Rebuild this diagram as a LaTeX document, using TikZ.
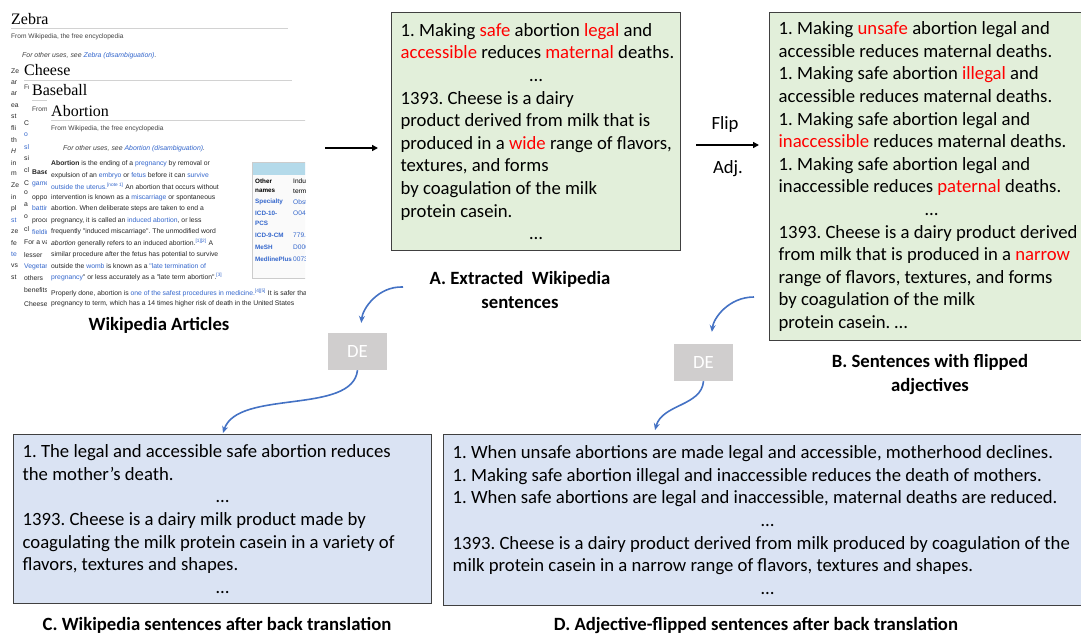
\documentclass[tikz,border=0pt]{standalone}
\usepackage{fontspec}
\setmainfont{Carlito}
\newfontfamily\wikiserif{Liberation Serif}
\newfontfamily\wikisans{Liberation Sans}
\usetikzlibrary{arrows.meta,positioning}
\frenchspacing

\definecolor{boxgreen}{HTML}{E2EFDA}
\definecolor{boxblue}{HTML}{DAE3F3}
\definecolor{boxgray}{HTML}{404040}
\definecolor{flipred}{HTML}{FF0000}
\definecolor{degray}{HTML}{D0CECE}
\definecolor{flowblue}{HTML}{4472C4}
\definecolor{wblue}{HTML}{3366CC}
\definecolor{infoblue}{HTML}{B4DAEA}

\newcommand\flip[1]{\textcolor{flipred}{#1}}
\newcommand\lk[1]{\textcolor{wblue}{#1}}
\newcommand\sref[1]{\textsuperscript{\lk{#1}}}
\newcommand\dotsline{\makebox[\linewidth]{…}}

\tikzset{
  sentbox/.style={draw=boxgray, line width=1.3pt, inner xsep=9pt, inner ysep=3pt,
    anchor=north west, align=flush left, font=\fontsize{18.7}{22.6}\selectfont},
  greenbox/.style={sentbox, fill=boxgreen},
  bluebox/.style={sentbox, fill=boxblue},
  caption/.style={align=center, inner sep=2pt, font=\bfseries\fontsize{18.7}{24}\selectfont},
  plain/.style={inner sep=1pt, font=\fontsize{18.7}{22}\selectfont},
  debox/.style={fill=degray, text=white, minimum width=59pt, minimum height=37pt,
    inner sep=0pt, font=\fontsize{18.7}{22}\selectfont},
  blueflow/.style={draw=flowblue, line width=1.6pt, -{Stealth[length=7pt,width=6pt]}},
  blackflow/.style={line width=1.8pt, -{Triangle[length=6pt,width=6pt]}},
  wtitle/.style={anchor=west, inner sep=0pt, font=\wikiserif\fontsize{16}{16}\selectfont},
  wsmall/.style={anchor=west, inner sep=0pt, text=black!75, font=\wikisans\fontsize{6.6}{7}\selectfont},
  witalic/.style={wsmall, font=\wikisans\itshape\fontsize{6.9}{7}\selectfont},
  wbody/.style={anchor=west, inner sep=0pt, text=black!85, font=\wikisans\fontsize{6.8}{8}\selectfont},
  infotext/.style={anchor=west, inner sep=0pt, font=\wikisans\bfseries\fontsize{6.3}{7}\selectfont},
  wrule/.style={draw=gray!35, line width=0.8pt},
}

\begin{document}
\begin{tikzpicture}[x=1pt,y=-1pt]
\useasboundingbox (0,0) rectangle (1081,635);

% stacked wikipedia pages
\begin{scope}
\clip (0,0) rectangle (305,312);
\node[wtitle] (zebra) at (11,19) {Zebra};
\draw[wrule] (11,28) -- (288,28);
\node[wsmall] (zfrom) at (11,37) {From Wikipedia, the free encyclopedia};
\node[witalic] (zother) at (22,56) {For other uses, see \lk{Zebra (disambiguation)}.};
\foreach \t [count=\i from 0] in {Ze,ar,ar,ea,st,fli,th,\textit{H},in,m,Ze,in,pl,\lk{st},ze,fe,\lk{te},vs,st}
  \node[wbody] (zf\i) at (11,71+11.45*\i) {\t};

\fill[white] (20,62) rectangle (320,312);
\node[wtitle] (cheese) at (24,70) {Cheese};
\draw[wrule] (24,80) -- (292,80);
\node[wsmall] (cfrom) at (24,88) {From Wikipedia, the free encyclopedia};
\foreach \t/\y [count=\i] in {C/123,\lk{o}/135,\lk{sl}/147,si/158,cl/170,C/183,o/193,a/205,o/217,cl/229,
    For a variety/243,lesser/255,\lk{Vegetarian}/267,others/278,benefits/290,Cheese/304}
  \node[wbody] (cf\i) at (24,\y) {\t};

\fill[white] (29,82) rectangle (320,238);
\node[wtitle] (baseball) at (32,90) {Baseball};
\draw[wrule] (32,100) -- (298,100);
\node[wsmall] (bfrom) at (32,110) {From Wikipedia, the free encyclopedia};
\foreach \t/\y [count=\i] in {\textbf{Baseball}/172,\lk{game}/184,opposing/198,\lk{batting}/209,process/221,\lk{fielding}/233}
  \node[wbody] (bf\i) at (32,\y) {\t};

\fill[white] (47,100) rectangle (320,312);
\node[wtitle] (abortion) at (51,111) {Abortion};
\draw[wrule] (51,120) -- (320,120);
\node[wsmall] (afrom2) at (51,129) {From Wikipedia, the free encyclopedia};
\node[witalic] (aother) at (63,149) {For other uses, see \lk{Abortion (disambiguation)}.};
\foreach \t [count=\i from 0] in {
    {\textbf{Abortion} is the ending of a \lk{pregnancy} by removal or},
    {expulsion of an \lk{embryo} or \lk{fetus} before it can \lk{survive}},
    {\lk{outside the uterus.}\sref{[note 1]} An abortion that occurs without},
    {intervention is known as a \lk{miscarriage} or spontaneous},
    {abortion. When deliberate steps are taken to end a},
    {pregnancy, it is called an \lk{induced abortion}, or less},
    {frequently "induced miscarriage". The unmodified word},
    {\textit{abortion} generally refers to an induced abortion.\sref{[1][2]} A},
    {similar procedure after the fetus has potential to survive},
    {outside the \lk{womb} is known as a \lk{"late termination of}},
    {\lk{pregnancy}" or less accurately as a "late term abortion".\sref{[3]}}}
  \node[wbody] (ap\i) at (51,164+11.3*\i) {\t};
\node[wbody] (ap11) at (51,293) {Properly done, abortion is \lk{one of the safest procedures in medicine.}\sref{[4][5]} It is safer than};
\node[wbody] (ap12) at (51,304) {pregnancy to term, which has a 14 times higher risk of death in the United States};

\draw[gray!40, fill=gray!4, line width=0.6pt] (252,162) rectangle (330,278);
\fill[infoblue] (252.5,162.5) rectangle (330,175);
\node[infotext] (ib1) at (255,181) {Other};
\node[infotext] (ib2) at (255,191) {names};
\foreach \t/\y [count=\i from 3] in {Specialty/202,ICD-10-/213,PCS/223,ICD-9-CM/235,MeSH/247,MedlinePlus/259}
  \node[infotext, text=wblue] (ib\i) at (255,\y) {\t};
\node[wsmall, text=black] (iv1) at (293,181) {Induced};
\node[wsmall, text=black] (iv2) at (293,191) {termination};
\foreach \t/\y [count=\i from 3] in {Obstetrics/202,O04/213,779.6/235,D000028/247,007382/259}
  \node[wsmall, text=wblue] (iv\i) at (293,\y) {\t};
\end{scope}

\node[caption] (capW) at (159,325) {Wikipedia Articles};

% sentence boxes
\node[greenbox, text width=271pt, minimum height=238pt] (A) at (391,12) {%
1. Making \flip{safe} abortion \flip{legal} and\\
\mbox{\flip{accessible} reduces \flip{maternal} deaths.}\\
\dotsline\\
1393. Cheese is a dairy\\
product derived from milk that is\\
\mbox{produced in a \flip{wide} range of flavors,}\\
textures, and forms\\
by coagulation of the milk\\
protein casein.\\
\dotsline};

\node[greenbox, text width=306pt, minimum height=328pt] (B) at (769,12) {%
1. Making \flip{unsafe} abortion legal and\\
accessible reduces maternal deaths.\\
1. Making safe abortion \flip{illegal} and\\
accessible reduces maternal deaths.\\
1. Making safe abortion legal and\\
\flip{inaccessible} reduces maternal deaths.\\
1. Making safe abortion legal and\\
inaccessible reduces \flip{paternal} deaths.\\
\dotsline\\
1393. Cheese is a dairy product derived\\
from milk that is produced in a \flip{narrow}\\
range of flavors, textures, and forms\\
by coagulation of the milk\\
protein casein. …};

\node[bluebox, text width=400pt, minimum height=169pt] (C) at (13,434) {%
1. The legal and accessible safe abortion reduces\\
the mother's death.\\
\dotsline\\
1393. Cheese is a dairy milk product made by\\
coagulating the milk protein casein in a variety of\\
flavors, textures and shapes.\\
\dotsline};

\node[bluebox, text width=630pt, minimum height=171pt] (D) at (443,434) {%
1. When unsafe abortions are made legal and accessible, motherhood declines.\\
1. Making safe abortion illegal and inaccessible reduces the death of mothers.\\
1. When safe abortions are legal and inaccessible, maternal deaths are reduced.\\
\dotsline\\
1393. Cheese is a dairy product derived from milk produced by coagulation of the\\
milk protein casein in a narrow range of flavors, textures and shapes.\\
\dotsline};

\node[caption] (capA) at (520,290) {A. Extracted\ \ Wikipedia\\sentences};
\node[caption] (capB) at (930,375) {B. Sentences with flipped\\adjectives};
\node[caption] (capC) at (217,625) {C. Wikipedia sentences after back translation};
\node[caption] (capD) at (756,625) {D. Adjective-flipped sentences after back translation};

\node[plain] (flip) at (725,125) {Flip};
\node[plain] (adj) at (728,169) {Adj.};

\node[debox] (de1) at (357.5,351.5) {DE};
\node[debox] (de2) at (703.5,362.5) {DE};

\coordinate (wikiR) at (325,148);
\coordinate (flipL) at (696,145);
\coordinate (fromA) at (403,287);
\coordinate (fromB) at (754,297);

\draw[blackflow, shorten >=13pt] (wikiR) -- (wikiR -| A.west);
\draw[blackflow, shorten >=10pt] (flipL) -- (flipL -| B.west);
\draw[blueflow, shorten >=10pt] (fromA) .. controls +(-25,-1) and +(2,-24) .. ([xshift=3pt]de1.north);
\draw[blueflow, shorten >=1pt] (de1.south) .. controls +(-5,45) and +(15,-45) .. (C.north);
\draw[blueflow, shorten >=12pt] (fromB) .. controls +(-25,0) and +(3,-26) .. ([xshift=7pt]de2.north);
\draw[blueflow, shorten >=4pt] (de2.south) .. controls +(-2,25) and +(8,-30) .. ([xshift=211pt]D.north west);
\end{tikzpicture}
\end{document}
